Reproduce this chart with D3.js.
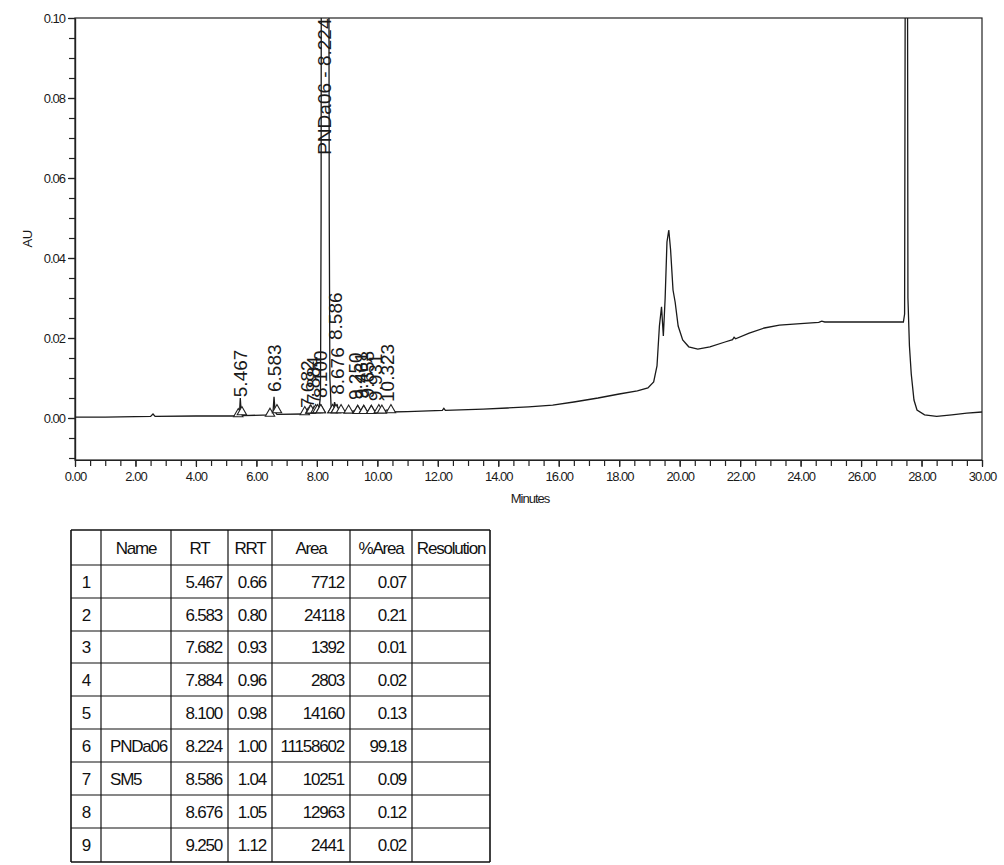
<!DOCTYPE html>
<html>
<head>
<meta charset="utf-8">
<script src="https://cdn.jsdelivr.net/npm/d3@7"></script>
<style>
  body { margin: 0; background: #fff; }
  svg { font-family: "Liberation Sans", Arial, sans-serif; }
</style>
</head>
<body>
<script>
//chromatogram trace: [minutes, AU]
var trace = [
  [0.00,0.0002],[1.00,0.0002],[2.50,0.0004],[2.58,0.0010],[2.65,0.0004],[4.00,0.0005],[5.38,0.0005],
  [5.44,0.0010],[5.467,0.0050],[5.50,0.0010],[5.56,0.0006],
  [6.50,0.0008],[6.55,0.0015],[6.583,0.0053],[6.62,0.0015],[6.68,0.0009],
  [7.55,0.0010],[7.65,0.0014],[7.682,0.0022],[7.72,0.0014],[7.86,0.0016],[7.884,0.0026],[7.92,0.0018],
  [8.05,0.0022],[8.10,0.0040],[8.12,0.0060],[8.14,0.0500],[8.15,0.1500],[8.224,0.3000],[8.39,0.1500],
  [8.41,0.0500],[8.43,0.0100],[8.47,0.0030],[8.52,0.0020],[8.55,0.0022],[8.586,0.0040],[8.62,0.0025],
  [8.676,0.0032],[8.72,0.0018],[9.00,0.0014],[9.25,0.0018],[9.30,0.0013],[9.46,0.0016],[9.52,0.0013],
  [9.66,0.0017],[9.72,0.0013],[9.93,0.0016],[10.10,0.0014],[10.323,0.0020],[10.40,0.0015],
  [11.00,0.0016],[12.15,0.0019],[12.20,0.0024],[12.25,0.0019],[13.50,0.0022],[14.30,0.0025],[15.00,0.0028],
  [15.80,0.0032],[16.50,0.0040],[17.30,0.0050],[18.00,0.0060],[18.60,0.0068],[18.95,0.0075],[19.14,0.0090],
  [19.25,0.0130],[19.33,0.0230],[19.40,0.0278],[19.46,0.0205],[19.52,0.0300],[19.58,0.0440],[19.64,0.0470],
  [19.70,0.0420],[19.78,0.0320],[19.85,0.0290],[19.95,0.0230],[20.10,0.0195],[20.30,0.0178],[20.60,0.0172],
  [21.00,0.0178],[21.50,0.0190],[21.75,0.0196],[21.80,0.0202],[21.85,0.0198],[22.30,0.0212],[22.80,0.0225],
  [23.30,0.0232],[24.00,0.0236],[24.60,0.0239],[24.70,0.0242],[24.80,0.0240],[25.50,0.0240],[26.50,0.0240],
  [27.40,0.0240],[27.44,0.0260],[27.47,0.1500],[27.53,0.1500],[27.55,0.0300],[27.60,0.0180],[27.66,0.0110],
  [27.75,0.0045],[27.85,0.0020],[28.10,0.0008],[28.50,0.0004],[29.00,0.0008],[29.50,0.0012],[30.00,0.0015]
];

//integrated peaks
var peakRT    = [5.467, 6.583, 7.682, 7.884, 8.100, 8.224, 8.586, 8.676, 9.250, 9.461, 9.658, 9.931, 10.323];
var peakText  = ["5.467","6.583","7.682","7.884","8.100","PNDa06 - 8.224","8.586","8.676","9.250","9.461","9.658","9.931","10.323"];
var labelAU   = [0.0052, 0.0065, 0.0025, 0.0035, 0.0050, 0.0658, 0.0195, 0.0058, 0.0045, 0.0047, 0.0049, 0.0042, 0.0040];
var peakStart = [5.40, 6.45, 7.60, 7.80, 8.02, 8.13, 8.52, 8.63, 9.05, 9.35, 9.55, 9.80, 10.15];
var peakEnd   = [5.52, 6.68, 7.78, 7.96, 8.13, 8.52, 8.63, 8.80, 9.35, 9.55, 9.80, 10.05, 10.45];

//axis ticks
var xTicks = [0, 2, 4, 6, 8, 10, 12, 14, 16, 18, 20, 22, 24, 26, 28, 30];
var yTicks = [0.00, 0.02, 0.04, 0.06, 0.08, 0.10];

//peak table
var tableHead = ["", "Name", "RT", "RRT", "Area", "%Area", "Resolution"];
var rowNo     = ["1","2","3","4","5","6","7","8","9"];
var rowName   = ["", "", "", "", "", "PNDa06", "SM5", "", ""];
var rowRT     = ["5.467","6.583","7.682","7.884","8.100","8.224","8.586","8.676","9.250"];
var rowRRT    = ["0.66","0.80","0.93","0.96","0.98","1.00","1.04","1.05","1.12"];
var rowArea   = ["7712","24118","1392","2803","14160","11158602","10251","12963","2441"];
var rowPct    = ["0.07","0.21","0.01","0.02","0.13","99.18","0.09","0.12","0.02"];
var rowRes    = ["","","","","","","","",""];

var svg = d3.select("body").append("svg")
  .attr("width", 1004)
  .attr("height", 865);

//plot area (don't call these top/left, window.top is taken)
var pLeft = 75, pRight = 982, pTop = 18, pBottom = 460;

var x = d3.scaleLinear().domain([0, 30]).range([pLeft, pRight]);
var y = d3.scaleLinear().domain([-0.0105, 0.10]).range([pBottom, pTop]);

svg.append("clipPath").attr("id", "plotclip")
  .append("rect")
  .attr("x", pLeft).attr("y", pTop)
  .attr("width", pRight - pLeft).attr("height", pBottom - pTop);

//frame (top + right)
svg.append("rect")
  .attr("x", pLeft).attr("y", pTop)
  .attr("width", pRight - pLeft).attr("height", pBottom - pTop)
  .attr("fill", "none")
  .attr("stroke", "#222")
  .attr("stroke-width", 1.2);

//minor ticks
var xMinor = d3.range(0, 30.01, 0.5);
var yMinor = d3.range(-0.01, 0.1001, 0.005);

svg.append("g")
  .attr("transform", "translate(0," + pBottom + ")")
  .call(d3.axisBottom(x).tickValues(xMinor).tickSize(6).tickSizeOuter(0).tickFormat(""));

svg.append("g")
  .attr("transform", "translate(" + pLeft + ",0)")
  .call(d3.axisLeft(y).tickValues(yMinor).tickSize(6).tickSizeOuter(0).tickFormat(""));

//major ticks with labels
svg.append("g")
  .attr("transform", "translate(0," + pBottom + ")")
  .call(d3.axisBottom(x).tickValues(xTicks).tickSize(7).tickPadding(5).tickSizeOuter(0).tickFormat(d3.format(".2f")));

svg.append("g")
  .attr("transform", "translate(" + pLeft + ",0)")
  .call(d3.axisLeft(y).tickValues(yTicks).tickSize(7).tickPadding(3).tickSizeOuter(0).tickFormat(d3.format(".2f")));

svg.selectAll(".domain, .tick line").attr("stroke", "#222").attr("stroke-width", 1.2);
svg.selectAll(".tick text")
  .attr("fill", "#1a1a1a")
  .style("font-size", "13px")
  .style("letter-spacing", "-1px")
  .style("font-family", "'Liberation Sans', Arial, sans-serif");

//axis titles
svg.append("text")
  .attr("x", 530).attr("y", 503)
  .attr("text-anchor", "middle")
  .style("font-size", "13px")
  .style("letter-spacing", "-1px")
  .attr("fill", "#1a1a1a")
  .text("Minutes");

svg.append("text")
  .attr("transform", "translate(32,239) rotate(-90)")
  .attr("text-anchor", "middle")
  .style("font-size", "13px")
  .style("letter-spacing", "-0.5px")
  .attr("fill", "#1a1a1a")
  .text("AU");

//the trace itself
var line = d3.line()
  .x(function(d) { return x(d[0]); })
  .y(function(d) { return y(d[1]); });

svg.append("path")
  .datum(trace)
  .attr("clip-path", "url(#plotclip)")
  .attr("fill", "none")
  .attr("stroke", "#1a1a1a")
  .attr("stroke-width", 1.3)
  .attr("d", line);

//baseline value under a given time (nearest trace point to the left)
var bisect = d3.bisector(function(d) { return d[0]; }).left;
function baseAt(t) {
  var i = Math.max(0, bisect(trace, t) - 1);
  return Math.min(trace[i][1], 0.0015);
}

//peak start / end markers
var marks = [];
peakRT.forEach(function(rt, i) {
  marks.push(peakStart[i]);
  marks.push(peakEnd[i]);
});

svg.selectAll(".mark")
  .data(marks)
  .enter().append("path")
  .attr("class", "mark")
  .attr("transform", function(t) { return "translate(" + x(t) + "," + (y(baseAt(t)) - 2) + ")"; })
  .attr("d", d3.symbol().type(d3.symbolTriangle).size(38))
  .attr("fill", "#fff")
  .attr("stroke", "#222")
  .attr("stroke-width", 1.1);

//peak labels, rotated
svg.selectAll(".plabel")
  .data(peakRT)
  .enter().append("text")
  .attr("class", "plabel")
  .attr("transform", function(rt, i) {
    return "translate(" + (x(rt) + 7) + "," + y(labelAU[i]) + ") rotate(-90)";
  })
  .style("font-size", "19px")
  .attr("fill", "#1a1a1a")
  .text(function(rt, i) { return peakText[i]; });

//table
var colX = [71, 101, 171, 228, 272, 350, 412, 490];
var rowY = [530, 565, 598, 631, 663, 696, 729, 762, 795, 828, 862];

var tbl = svg.append("g");

rowY.forEach(function(ry, i) {
  tbl.append("line")
    .attr("x1", colX[0]).attr("x2", colX[colX.length - 1])
    .attr("y1", ry).attr("y2", ry)
    .attr("stroke", "#111")
    .attr("stroke-width", (i == 0 || i == rowY.length - 1) ? 1.6 : 1.2);
});
colX.forEach(function(cx, i) {
  tbl.append("line")
    .attr("x1", cx).attr("x2", cx)
    .attr("y1", rowY[0]).attr("y2", rowY[rowY.length - 1])
    .attr("stroke", "#111")
    .attr("stroke-width", (i == 0 || i == colX.length - 1) ? 1.6 : 1.2);
});

function cellText(str, col, row, align) {
  var tx;
  if (align == "middle") tx = (colX[col] + colX[col + 1]) / 2;
  else if (align == "end") tx = colX[col + 1] - 6;
  else tx = colX[col] + 9;
  tbl.append("text")
    .attr("x", tx)
    .attr("y", (rowY[row] + rowY[row + 1]) / 2 + 6)
    .attr("text-anchor", align)
    .style("font-size", "17px")
    .style("letter-spacing", "-1.2px")
    .attr("fill", "#111")
    .text(str);
}

tableHead.forEach(function(h, c) { cellText(h, c, 0, "middle"); });

rowNo.forEach(function(n, r) {
  cellText(n, 0, r + 1, "middle");
  cellText(rowName[r], 1, r + 1, "start");
  cellText(rowRT[r], 2, r + 1, "end");
  cellText(rowRRT[r], 3, r + 1, "end");
  cellText(rowArea[r], 4, r + 1, "end");
  cellText(rowPct[r], 5, r + 1, "end");
  cellText(rowRes[r], 6, r + 1, "end");
});
</script>
</body>
</html>
